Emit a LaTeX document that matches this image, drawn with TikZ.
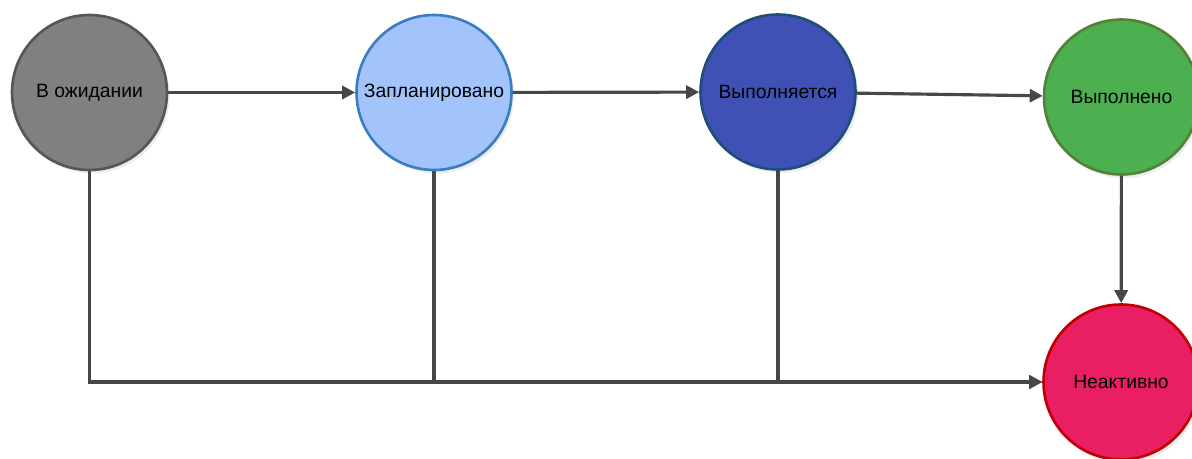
\documentclass[tikz,border=0pt]{standalone}
\usepackage{fontspec}
\setmainfont{Liberation Sans}
\usepackage{xcolor}
\usepackage{tikz}
\usetikzlibrary{arrows.meta,shadows}
\definecolor{lineg}{HTML}{474747}
\definecolor{waitf}{HTML}{808080}
\definecolor{waitd}{HTML}{565656}
\definecolor{planf}{HTML}{A2C4FA}
\definecolor{pland}{HTML}{3A7DC0}
\definecolor{runf}{HTML}{3F51B5}
\definecolor{rund}{HTML}{1F4E79}
\definecolor{donef}{HTML}{4CAF50}
\definecolor{doned}{HTML}{538135}
\definecolor{offf}{HTML}{E91E63}
\definecolor{offd}{HTML}{C00000}

\begin{document}
\begin{tikzpicture}[x=0.02cm,y=-0.02cm,>={Triangle[length=0.26cm,width=0.26cm]},
  state/.style={circle,minimum size=3.1cm,inner sep=0pt,line width=1.5pt,
    font=\fontsize{11}{13}\selectfont,
    drop shadow={opacity=0.15,shadow xshift=0.05cm,shadow yshift=-0.07cm}},
  link/.style={draw=lineg,line width=1.8pt,->}]
  \useasboundingbox (0,0) rectangle (1192,459);
  % states
  \node[state,fill=waitf,draw=waitd] (wait) at (89.5,92.5) {В ожидании};
  \node[state,fill=planf,draw=pland] (plan) at (434,92.5) {Запланировано};
  \node[state,fill=runf,draw=rund] (run) at (778,92) {Выполняется};
  \node[state,fill=donef,draw=doned] (done) at (1121.5,97) {Выполнено};
  \node[state,fill=offf,draw=offd] (off) at (1121,382) {Неактивно};
  % transitions
  \draw[link] (wait) -- (plan);
  \draw[link] (plan) -- (run);
  \draw[link] (run) -- (done);
  \draw[link] (done) -- (off);
  \draw[link] (wait) |- (off);
  \draw[link] (plan) |- (off);
  \draw[link] (run) |- (off);
\end{tikzpicture}
\end{document}
